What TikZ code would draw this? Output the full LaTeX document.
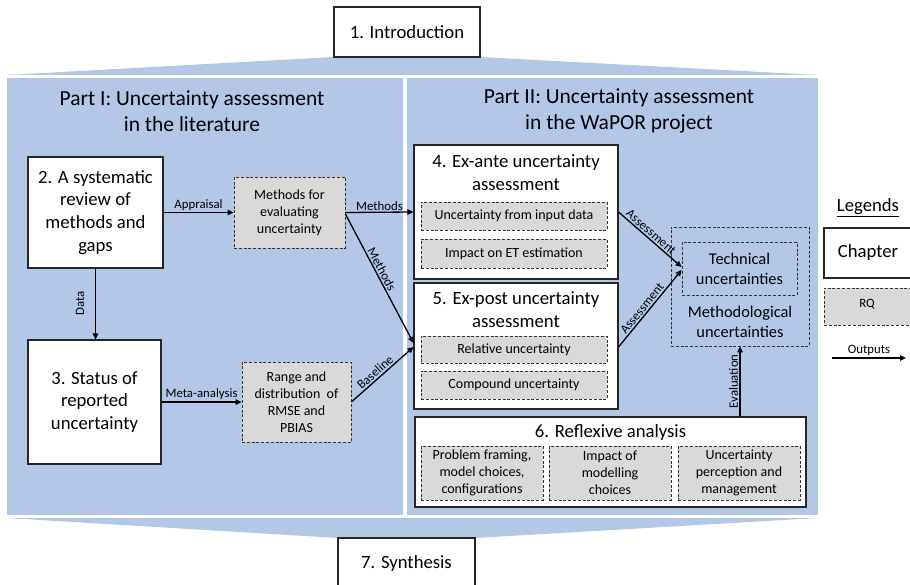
\documentclass[tikz,border=0pt]{standalone}
\usepackage{fontspec}
\setmainfont{Carlito}
\usetikzlibrary{arrows.meta,calc}
\definecolor{panelblue}{RGB}{180,199,231}
\definecolor{rqgray}{RGB}{217,217,217}
\begin{document}
\begin{tikzpicture}[x=1pt,y=-1pt,
 chap/.style={draw=black!85, line width=1.1pt, fill=white, inner sep=0pt, align=center, font=\fontsize{18.7}{22.8}\selectfont},
 rq/.style={draw=black!80, line width=0.8pt, dash pattern=on 3pt off 1.8pt, fill=rqgray, inner sep=0pt, align=center, font=\fontsize{14}{17.2}\selectfont},
 grp/.style={draw=black!80, line width=0.8pt, dash pattern=on 3pt off 1.8pt, inner sep=0pt},
 lbl/.style={font=\fontsize{12.8}{15}\selectfont, inner sep=1.5pt},
 arr/.style={line width=1.3pt, -{Triangle[length=6pt,width=5.5pt]}},
 ptitle/.style={font=\fontsize{21.5}{26}\selectfont, align=center}
]
\useasboundingbox (0,0) rectangle (910,585);
% backgrounds
\fill[panelblue] (334,57) -- (480,57) -- (818,75) -- (7,75) -- cycle;
\fill[panelblue] (7,78) rectangle (403,515);
\fill[panelblue] (407,78) rectangle (818,515);
\fill[panelblue] (7,518) -- (818,518) -- (475,538) -- (338,538) -- cycle;

% chapters top/bottom
\node[chap, minimum width=146pt, minimum height=50pt] (intro) at (407,32) {1. Introduction};
\node[chap, minimum width=137pt, minimum height=52pt] (synth) at (406.5,564) {7. Synthesis};

% panel titles
\node[ptitle] (t1) at (192,111) {Part I: Uncertainty assessment\\in the literature};
\node[ptitle] (t2) at (619,111) {Part II: Uncertainty assessment\\in the WaPOR project};

% Part I
\node[chap, minimum width=135pt, minimum height=111pt] (b2) at (95.5,212.5) {2. A systematic\\review of\\methods and\\gaps};
\node[chap, minimum width=133pt, minimum height=124pt] (b3) at (94.5,402) {3. Status of\\reported\\uncertainty};
\node[rq, minimum width=111pt, minimum height=71pt] (q1) at (289.5,212.5) {Methods for\\evaluating\\uncertainty};
\node[rq, minimum width=109pt, minimum height=80pt] (q2) at (296.5,402) {Range and\\distribution\ \ of\\RMSE and\\PBIAS};

% Part II
\node[chap, minimum width=204pt, minimum height=134pt] (b4) at (516,212) {};
\node[font=\fontsize{18.7}{22.8}\selectfont, align=center] (b4t) at (516,173) {4. Ex-ante uncertainty\\assessment};
\node[rq, minimum width=186pt, minimum height=28pt] (q41) at (514,216) {Uncertainty from input data};
\node[rq, minimum width=186pt, minimum height=29pt] (q42) at (514,253.5) {Impact on ET estimation};

\node[chap, minimum width=204pt, minimum height=126pt] (b5) at (516,346) {};
\node[font=\fontsize{18.7}{22.8}\selectfont, align=center] (b5t) at (516,310) {5. Ex-post uncertainty\\assessment};
\node[rq, minimum width=186pt, minimum height=27pt] (q51) at (514,349.5) {Relative uncertainty};
\node[rq, minimum width=186pt, minimum height=28pt] (q52) at (514,385) {Compound uncertainty};

\node[chap, minimum width=391pt, minimum height=90pt] (b6) at (610.5,462) {};
\node[font=\fontsize{18.7}{22.8}\selectfont] (b6t) at (610.5,433) {6. Reflexive analysis};
\node[rq, minimum width=122pt, minimum height=54pt] (q61) at (482,473) {Problem framing,\\model choices,\\configurations};
\node[rq, minimum width=122pt, minimum height=54pt] (q62) at (610,473) {Impact of\\modelling\\choices};
\node[rq, minimum width=122pt, minimum height=54pt] (q63) at (739,473) {Uncertainty\\perception and\\management};

\node[grp, minimum width=138pt, minimum height=119pt] (meth) at (740,286.5) {};
\node[grp, minimum width=115pt, minimum height=53pt, align=center, font=\fontsize{16.4}{20}\selectfont] (tech) at (739.5,268.5) {Technical\\uncertainties};
\node[align=center, font=\fontsize{16.4}{20}\selectfont] (metht) at (740,321.5) {Methodological\\uncertainties};

% connectors
\draw[arr] (b2.east) -- node[lbl, above] {Appraisal} (q1.west);
\draw[arr] (b2.south) -- (b2.south |- b3.north);
\node[lbl, rotate=90] (ldata) at (80,303) {Data};
\draw[arr] (b3.east) -- node[lbl, above] {Meta-analysis} (q2.west);
\draw[arr] (q1.east) -- node[lbl, above] {Methods} (b4.west);
\draw[arr] ([yshift=-1.5pt]q1.east) -- node[lbl, sloped, above, pos=0.45] {Methods} ([yshift=3pt]b5.west);
\draw[arr] (q2.east) -- node[lbl, sloped, above, pos=0.45] {Baseline} ([yshift=-1pt]b5.west);
\draw[arr] (b4.east) -- node[lbl, sloped, above, pos=0.45] {Assessment} ([yshift=1.5pt]tech.west);
\draw[arr] ([yshift=-1pt]b5.east) -- node[lbl, sloped, above, pos=0.45] {Assessment} ([yshift=-1.5pt]tech.west);
\draw[arr] (b6.north -| meth.south) -- node[lbl, sloped, above] {Evaluation} (meth.south);

% legend
\node[font=\fontsize{18.7}{22.8}\selectfont] (leg) at (868,208) {\underline{Legends}};
\node[chap, minimum width=88pt, minimum height=50pt] (lchap) at (868,253) {};
\node[font=\fontsize{18.7}{22.8}\selectfont] (lchapt) at (868,253) {Chapter};
\node[rq, minimum width=88pt, minimum height=37pt] (lrq) at (868,306.5) {};
\node[font=\fontsize{12.8}{15}\selectfont] (lrqt) at (867,304) {RQ};
\coordinate (o1) at (832,358);
\coordinate (o2) at (906,358);
\draw[arr] (o1) -- node[lbl, above] {Outputs} (o2);
\end{tikzpicture}
\end{document}
